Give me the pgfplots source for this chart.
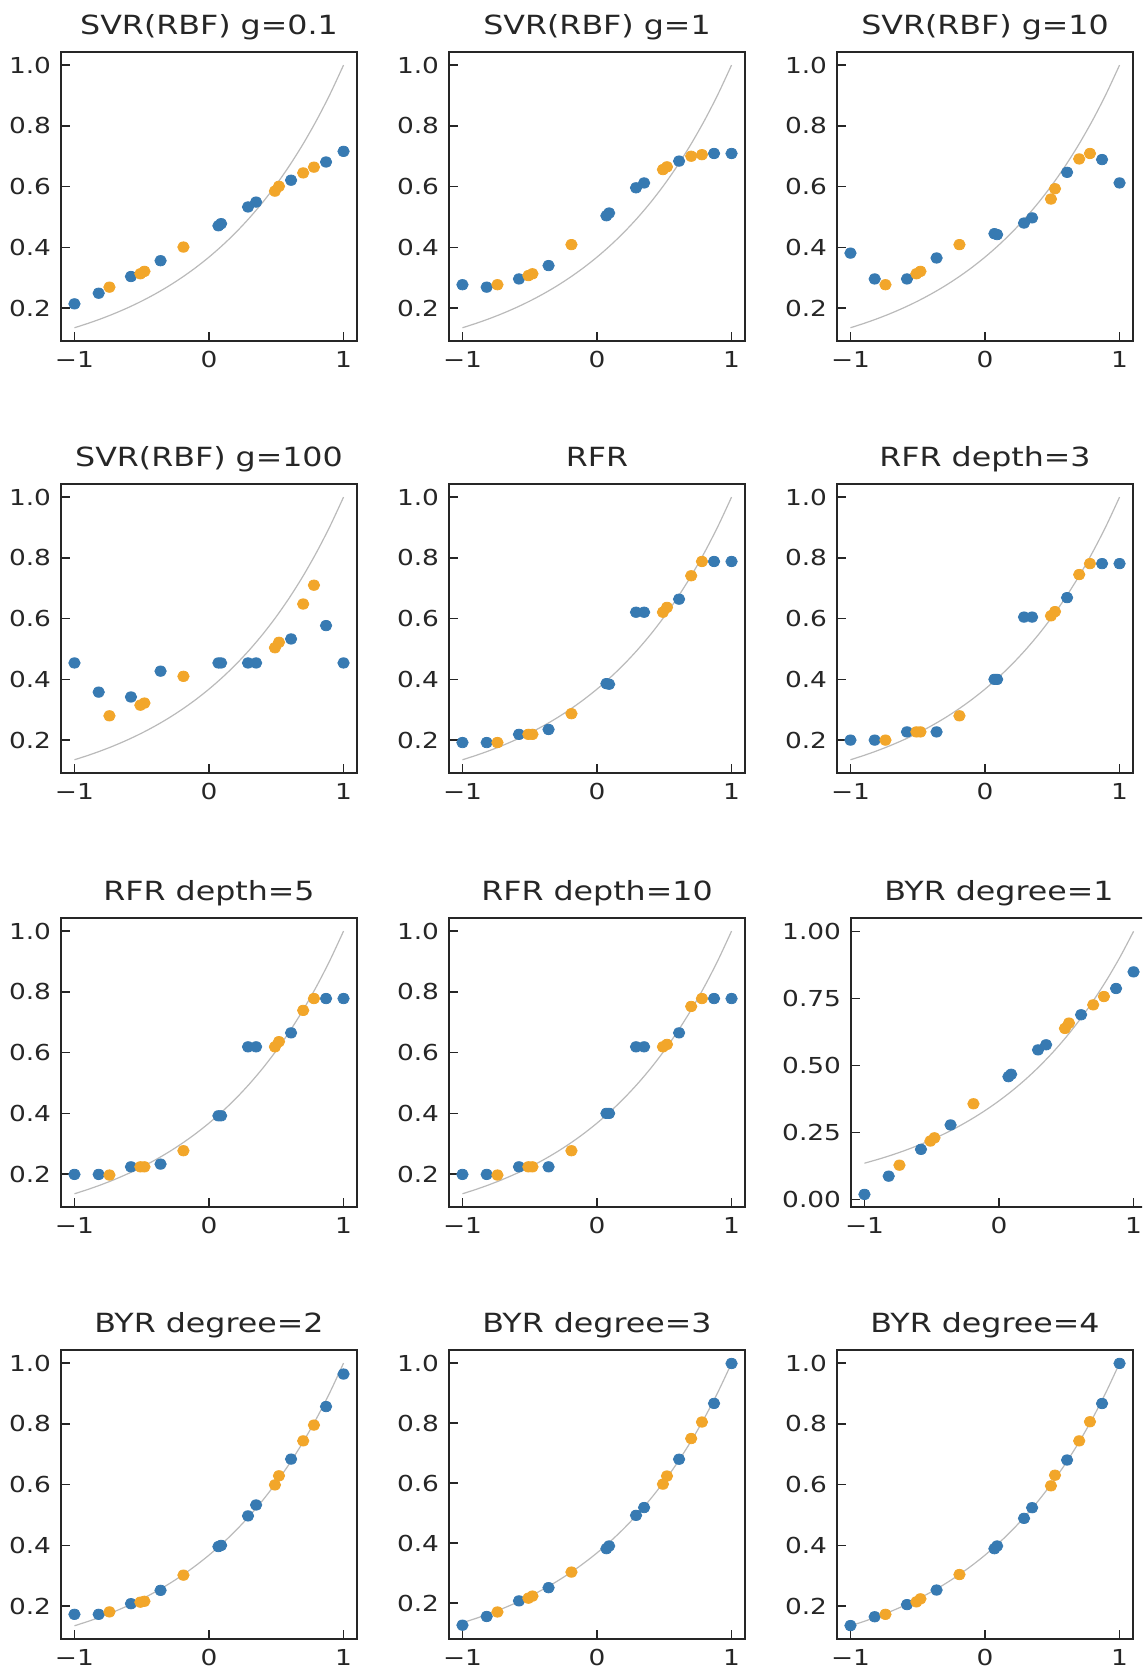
\documentclass[border=0pt]{standalone}
\usepackage{fontspec}
\setmainfont{DejaVu Sans}[FakeStretch=1.2]
\usepackage{pgfplots}
\usepackage{pgfplotstable}
\pgfplotsset{compat=1.18}
\definecolor{ptblue}{RGB}{55,122,178}
\definecolor{ptorange}{RGB}{242,166,42}
\definecolor{txt}{RGB}{38,38,38}

\pgfplotstableread{
x y
-1.0 0.1353
-0.9 0.1496
-0.8 0.1653
-0.7 0.1827
-0.6 0.2019
-0.5 0.2231
-0.4 0.2466
-0.3 0.2725
-0.2 0.3012
-0.1 0.3329
0.0 0.3679
0.1 0.4066
0.2 0.4493
0.3 0.4966
0.4 0.5488
0.5 0.6065
0.6 0.6703
0.7 0.7408
0.8 0.8187
0.9 0.9048
1.0 1.0000
}\curvetab

\pgfplotstableread{
x p1 p2 p3 p4 p5 p6 p7 p8 p9 p10 p11 p12
-1.00 0.214 0.277 0.381 0.454 0.192 0.200 0.199 0.199 0.019 0.173 0.127 0.136
-0.82 0.249 0.269 0.296 0.358 0.192 0.200 0.199 0.199 0.087 0.173 0.156 0.165
-0.58 0.304 0.296 0.296 0.342 0.219 0.227 0.224 0.224 0.187 0.208 0.208 0.205
-0.36 0.356 0.340 0.365 0.427 0.235 0.227 0.233 0.224 0.278 0.252 0.252 0.253
0.07 0.471 0.504 0.445 0.454 0.386 0.400 0.392 0.400 0.458 0.396 0.382 0.389
0.09 0.478 0.513 0.442 0.454 0.384 0.400 0.392 0.400 0.467 0.400 0.391 0.398
0.29 0.533 0.596 0.480 0.454 0.621 0.605 0.619 0.619 0.558 0.497 0.493 0.489
0.35 0.549 0.612 0.497 0.454 0.621 0.605 0.619 0.619 0.577 0.533 0.519 0.524
0.61 0.621 0.684 0.647 0.533 0.664 0.669 0.665 0.665 0.689 0.684 0.680 0.681
0.87 0.681 0.709 0.689 0.577 0.788 0.781 0.778 0.778 0.787 0.857 0.866 0.867
1.00 0.716 0.709 0.612 0.454 0.788 0.781 0.778 0.778 0.849 0.964 0.999 0.999
}\bluetab

\pgfplotstableread{
x p1 p2 p3 p4 p5 p6 p7 p8 p9 p10 p11 p12
-0.74 0.269 0.277 0.277 0.280 0.192 0.200 0.197 0.197 0.128 0.181 0.171 0.173
-0.51 0.313 0.307 0.313 0.315 0.219 0.227 0.224 0.224 0.218 0.213 0.217 0.214
-0.48 0.321 0.313 0.321 0.322 0.219 0.227 0.224 0.224 0.230 0.216 0.224 0.224
-0.19 0.401 0.409 0.409 0.410 0.287 0.280 0.277 0.277 0.357 0.302 0.304 0.304
0.49 0.585 0.656 0.559 0.504 0.621 0.609 0.619 0.619 0.638 0.599 0.597 0.596
0.52 0.601 0.665 0.593 0.522 0.637 0.623 0.636 0.627 0.658 0.629 0.624 0.631
0.70 0.645 0.700 0.691 0.648 0.741 0.745 0.739 0.752 0.726 0.744 0.749 0.744
0.78 0.664 0.705 0.709 0.710 0.788 0.781 0.778 0.778 0.757 0.796 0.804 0.807
}\orangetab

\pgfplotsset{
  every axis title/.style={at={(0.5,1)}, anchor=base, yshift=8.5pt, inner sep=0pt,
      font=\fontsize{13.2}{16}\selectfont, text=txt},
  panel/.style={
    scale only axis, width=148pt, height=144.5pt,
    xmin=-1.1, xmax=1.1, ymin=0.0918, ymax=1.0432,
    xtick={-1,0,1}, xticklabels={−1,0,1},
    ytick={0.2,0.4,0.6,0.8,1.0}, yticklabels={0.2,0.4,0.6,0.8,1.0},
    tick align=inside, tick pos=left, major tick length=4.5pt,
    axis line style={line width=0.8pt, draw=txt},
    every tick/.style={draw=txt, line width=0.8pt},
    tick label style={font=\fontsize{11}{13}\selectfont, text=txt, inner sep=0pt},
    xticklabel style={anchor=base, yshift=-13.3pt},
    yticklabel style={anchor=east, xshift=-4.8pt},
  },
  curvestyle/.style={draw=black!27, line width=0.6pt, smooth, no markers},
  bluestyle/.style={only marks, mark=*, mark size=2.6pt, color=ptblue,
    mark options={xscale=1.1, draw=none, fill=ptblue}},
  orangestyle/.style={only marks, mark=*, mark size=2.6pt, color=ptorange,
    mark options={xscale=1.1, draw=none, fill=ptorange}},
}

\newcommand{\panel}[5]{%
\begin{axis}[panel, at={(#1,#2)}, anchor=south west, title={#3}, #5]
\addplot[curvestyle] table[x=x,y=y] {\curvetab};
\addplot[bluestyle] table[x=x,y=#4] {\bluetab};
\addplot[orangestyle] table[x=x,y=#4] {\orangetab};
\end{axis}}

\begin{document}
\begin{tikzpicture}
\begin{scope}
\clip (0pt,0pt) rectangle (571pt,836.5pt);
\panel{30.5pt}{666pt}{SVR(RBF) g=0.1}{p1}{}
\panel{224.5pt}{666pt}{SVR(RBF) g=1}{p2}{}
\panel{418.5pt}{666pt}{SVR(RBF) g=10}{p3}{}
\panel{30.5pt}{450pt}{SVR(RBF) g=100}{p4}{}
\panel{224.5pt}{450pt}{RFR}{p5}{}
\panel{418.5pt}{450pt}{RFR depth=3}{p6}{}
\panel{30.5pt}{233pt}{RFR depth=5}{p7}{}
\panel{224.5pt}{233pt}{RFR depth=10}{p8}{}
\panel{425.5pt}{233pt}{BYR degree=1}{p9}{ymin=-0.028, ymax=1.05, ytick={0,0.25,0.5,0.75,1}, yticklabels={0.00,0.25,0.50,0.75,1.00}}
\panel{30.5pt}{17pt}{BYR degree=2}{p10}{}
\panel{224.5pt}{17pt}{BYR degree=3}{p11}{ymin=0.081, ymax=1.044}
\panel{418.5pt}{17pt}{BYR degree=4}{p12}{}
\end{scope}
\pgfresetboundingbox
\path[use as bounding box] (0pt,0pt) rectangle (571pt,836.5pt);
\end{tikzpicture}
\end{document}
